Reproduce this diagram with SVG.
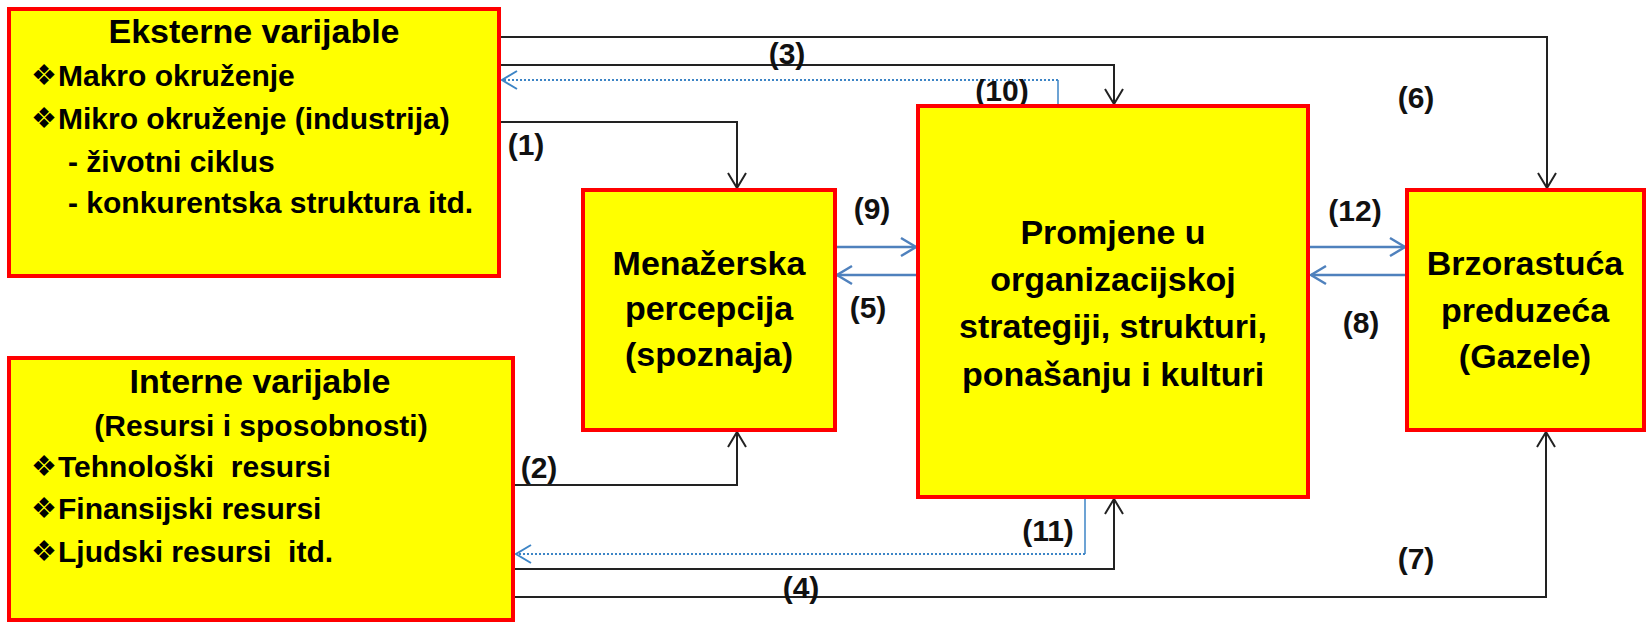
<svg xmlns="http://www.w3.org/2000/svg" width="1647" height="624" viewBox="0 0 1647 624">
<style>
.box{fill:#ffff00;stroke:#ff0000;stroke-width:4}
.t{font-family:"Liberation Sans",Arial,sans-serif;font-weight:bold;fill:#000;white-space:pre}
.ttl{font-size:34px;text-anchor:middle}
.body{font-size:30px}
.ctr{font-size:34px;text-anchor:middle}
.dia{font-family:"DejaVu Sans",sans-serif;font-size:29px;fill:#000}
.lbl{font-family:"Liberation Sans",Arial,sans-serif;font-weight:bold;font-size:30px;text-anchor:middle;fill:#111}
.blk{fill:none;stroke:#222;stroke-width:2}
.blu{fill:none;stroke:#4f81bd;stroke-width:2.5}
.dot{fill:none;stroke:#3d85c6;stroke-width:2;stroke-dasharray:2 2}
.vb{fill:none;stroke:#3d85c6;stroke-width:1.5}
</style>
<defs>
<marker id="ab" markerUnits="userSpaceOnUse" viewBox="-17 -11 19 22" refX="0" refY="0" markerWidth="19" markerHeight="22" orient="auto">
<path d="M-15,-9 L0,0 L-15,9" fill="none" stroke="#222" stroke-width="2"/>
</marker>
<marker id="au" markerUnits="userSpaceOnUse" viewBox="-17 -11 19 22" refX="0" refY="0" markerWidth="19" markerHeight="22" orient="auto">
<path d="M-15,-9 L0,0 L-15,9" fill="none" stroke="#4f81bd" stroke-width="2.5"/>
</marker>
<marker id="ad" markerUnits="userSpaceOnUse" viewBox="-17 -11 19 22" refX="0" refY="0" markerWidth="19" markerHeight="22" orient="auto">
<path d="M-15,-9 L0,0 L-15,9" fill="none" stroke="#3d85c6" stroke-width="2"/>
</marker>
</defs>
<rect width="1647" height="624" fill="#fff"/>

<g id="connectors">
<path class="blk" d="M500,37 H1547 V188" marker-end="url(#ab)"/>
<path class="blk" d="M500,65 H1114 V104" marker-end="url(#ab)"/>
<path class="blk" d="M500,122 H737 V188" marker-end="url(#ab)"/>
<path class="blk" d="M515,485 H737 V432" marker-end="url(#ab)"/>
<path class="blk" d="M515,569 H1114 V499" marker-end="url(#ab)"/>
<path class="blk" d="M515,597 H1546 V432" marker-end="url(#ab)"/>
<path class="vb" d="M1058,104 V80"/>
<path class="dot" d="M1058,80 H502" marker-end="url(#ad)"/>
<path class="vb" d="M1085,499 V554"/>
<path class="dot" d="M1085,554 H516" marker-end="url(#ad)"/>
<path class="blu" d="M837,247 H916" marker-end="url(#au)"/>
<path class="blu" d="M916,275 H837" marker-end="url(#au)"/>
<path class="blu" d="M1310,247 H1405" marker-end="url(#au)"/>
<path class="blu" d="M1405,275 H1311" marker-end="url(#au)"/>
<text class="lbl" x="787" y="64">(3)</text>
<text class="lbl" x="1002" y="101">(10)</text>
<text class="lbl" x="526" y="155">(1)</text>
<text class="lbl" x="1416" y="108">(6)</text>
<text class="lbl" x="872" y="219">(9)</text>
<text class="lbl" x="1355" y="221">(12)</text>
<text class="lbl" x="868" y="318">(5)</text>
<text class="lbl" x="1361" y="333">(8)</text>
<text class="lbl" x="539" y="478">(2)</text>
<text class="lbl" x="1048" y="541">(11)</text>
<text class="lbl" x="801" y="598">(4)</text>
<text class="lbl" x="1416" y="569">(7)</text>
</g>

<g id="eksterne">
<rect class="box" x="9" y="9" width="490" height="267"/>
<text class="t ttl" x="254" y="43">Eksterne varijable</text>
<text class="dia" x="31" y="85">❖</text>
<text class="t body" x="58" y="86">Makro okruženje</text>
<text class="dia" x="31" y="128">❖</text>
<text class="t body" x="58" y="129">Mikro okruženje (industrija)</text>
<text class="t body" x="68" y="172">- životni ciklus</text>
<text class="t body" x="68" y="213">- konkurentska struktura itd.</text>
</g>

<g id="interne">
<rect class="box" x="9" y="358" width="504" height="262"/>
<text class="t ttl" x="260" y="393">Interne varijable</text>
<text class="t body" x="261" y="436" text-anchor="middle">(Resursi i sposobnosti)</text>
<text class="dia" x="31" y="476">❖</text>
<text class="t body" x="58" y="477">Tehnološki  resursi</text>
<text class="dia" x="31" y="518">❖</text>
<text class="t body" x="58" y="519">Finansijski resursi</text>
<text class="dia" x="31" y="561">❖</text>
<text class="t body" x="58" y="562">Ljudski resursi  itd.</text>
</g>

<g id="menazerska">
<rect class="box" x="583" y="190" width="252" height="240"/>
<text class="t ctr" x="709" y="275">Menažerska</text>
<text class="t ctr" x="709" y="320">percepcija</text>
<text class="t ctr" x="709" y="366">(spoznaja)</text>
</g>

<g id="promjene">
<rect class="box" x="918" y="106" width="390" height="391"/>
<text class="t ctr" x="1113" y="244">Promjene u</text>
<text class="t ctr" x="1113" y="291">organizacijskoj</text>
<text class="t ctr" x="1113" y="338">strategiji, strukturi,</text>
<text class="t ctr" x="1113" y="386">ponašanju i kulturi</text>
</g>

<g id="brzorastuca">
<rect class="box" x="1407" y="190" width="237" height="240"/>
<text class="t ctr" x="1525" y="275">Brzorastuća</text>
<text class="t ctr" x="1525" y="322">preduzeća</text>
<text class="t ctr" x="1525" y="368">(Gazele)</text>
</g>
</svg>
